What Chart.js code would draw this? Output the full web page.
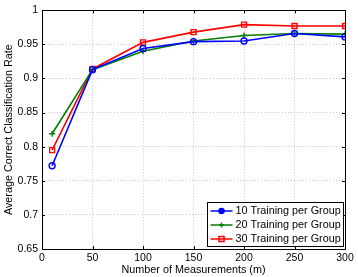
<!DOCTYPE html>
<html>
<head>
<meta charset="utf-8">
<script src="https://cdn.jsdelivr.net/npm/chart.js@4/dist/chart.umd.min.js"></script>
<style>
  html, body { margin: 0; padding: 0; background: #fff; }
  #wrap { width: 358px; height: 277px; position: relative; }
</style>
</head>
<body>
<div id="wrap"><canvas id="c"></canvas></div>
<script>
// number of measurements (m)
const measurements = [10, 50, 100, 150, 200, 250, 300];
const train10 = [0.772, 0.913, 0.944, 0.954, 0.955, 0.966, 0.961];
const train20 = [0.819, 0.913, 0.940, 0.955, 0.963, 0.966, 0.965];
const train30 = [0.795, 0.914, 0.953, 0.968, 0.979, 0.977, 0.977];
const seriesNames = ["10 Training per Group", "20 Training per Group", "30 Training per Group"];
const xTicks = [0, 50, 100, 150, 200, 250, 300];
const yTicks = [0.65, 0.7, 0.75, 0.8, 0.85, 0.9, 0.95, 1];

const FONT = "'Liberation Sans', Arial, Helvetica, sans-serif";

function pts(ys) {
  return measurements.map((m, i) => ({ x: m, y: ys[i] }));
}

// frame, inward ticks and legend box drawn matlab style
const matlabFrame = {
  id: "matlabFrame",
  afterDraw(chart) {
    const ctx = chart.ctx;
    const a = chart.chartArea;
    const xs = chart.scales.x, ys = chart.scales.y;
    ctx.save();
    ctx.strokeStyle = "#000";
    ctx.lineWidth = 1;
    ctx.beginPath();
    xTicks.forEach(t => {
      const px = Math.round(xs.getPixelForValue(t)) + 0.5;
      ctx.moveTo(px, a.bottom); ctx.lineTo(px, a.bottom - 3);
      ctx.moveTo(px, a.top); ctx.lineTo(px, a.top + 3);
    });
    yTicks.forEach(t => {
      const py = Math.round(ys.getPixelForValue(t)) + 0.5;
      ctx.moveTo(a.left, py); ctx.lineTo(a.left + 3, py);
      ctx.moveTo(a.right, py); ctx.lineTo(a.right - 3, py);
    });
    ctx.stroke();
    ctx.strokeRect(Math.round(a.left) + 0.5, Math.round(a.top) + 0.5,
      Math.round(a.right - a.left), Math.round(a.bottom - a.top));

    // legend
    const bw = 136, bh = 44;
    const bx = Math.round(a.right) - bw - 2 + 0.5, by = Math.round(a.bottom) - bh - 3 + 0.5;
    ctx.fillStyle = "#fff";
    ctx.fillRect(bx, by, bw, bh);
    ctx.strokeRect(bx, by, bw, bh);
    ctx.font = "10.8px " + FONT;
    ctx.textBaseline = "middle";
    chart.data.datasets.forEach((ds, i) => {
      const cy = by + 8.5 + i * 14;
      ctx.strokeStyle = ds.borderColor;
      ctx.lineWidth = 1.5;
      ctx.beginPath();
      ctx.moveTo(bx + 3, cy); ctx.lineTo(bx + 25, cy);
      ctx.stroke();
      const mx = bx + 14;
      ctx.beginPath();
      if (ds.pointStyle === "circle") {
        ctx.arc(mx, cy, 2.5, 0, Math.PI * 2);
        ctx.fillStyle = ds.borderColor; ctx.fill();
      } else if (ds.pointStyle === "cross") {
        ctx.moveTo(mx - 2.5, cy); ctx.lineTo(mx + 2.5, cy);
        ctx.moveTo(mx, cy - 2.5); ctx.lineTo(mx, cy + 2.5);
      } else {
        ctx.rect(mx - 2.5, cy - 2.5, 5, 5);
      }
      ctx.stroke();
      ctx.fillStyle = "#000";
      ctx.fillText(ds.label, bx + 28, cy + 0.5);
    });
    ctx.restore();
  }
};

new Chart(document.getElementById("c"), {
  type: "line",
  data: {
    datasets: [
      { label: seriesNames[0], data: pts(train10), borderColor: "#0000ff",
        pointStyle: "circle", pointRadius: 3 },
      { label: seriesNames[1], data: pts(train20), borderColor: "#008000",
        pointStyle: "cross", pointRadius: 3 },
      { label: seriesNames[2], data: pts(train30), borderColor: "#ff0000",
        pointStyle: "rect", pointRadius: 3.5 }
    ].map(d => Object.assign(d, {
      borderWidth: 1.6,
      pointBorderColor: d.borderColor,
      pointBackgroundColor: "rgba(0,0,0,0)",
      pointBorderWidth: 1.4,
      tension: 0,
      fill: false
    }))
  },
  options: {
    responsive: true,
    maintainAspectRatio: false,
    animation: false,
    layout: { padding: { left: 0, right: 13, top: 8, bottom: 0 } },
    plugins: { legend: { display: false }, tooltip: { enabled: false } },
    scales: {
      x: {
        type: "linear", min: 0, max: 300,
        afterBuildTicks: s => { s.ticks = xTicks.map(v => ({ value: v })); },
        afterFit: s => { s.height = 28; },
        grid: { color: "#c8c8c8", drawTicks: false },
        border: { display: false, dash: [1, 2] },
        ticks: { color: "#000", padding: 3, font: { family: FONT, size: 10.5 }, maxRotation: 0 },
        title: { display: true, text: "Number of Measurements (m)", color: "#000",
          font: { family: FONT, size: 10.8 }, padding: { top: 0, bottom: 0 } }
      },
      y: {
        min: 0.65, max: 1,
        afterBuildTicks: s => { s.ticks = yTicks.map(v => ({ value: v })); },
        afterFit: s => { s.width = 42; },
        grid: { color: "#c8c8c8", drawTicks: false },
        border: { display: false, dash: [1, 2] },
        ticks: { color: "#000", padding: 4, font: { family: FONT, size: 10.5 },
          callback: v => String(+v.toFixed(2)) },
        title: { display: true, text: "Average Correct Classification Rate", color: "#000",
          font: { family: FONT, size: 10.8 }, padding: { top: 3, bottom: 0 } }
      }
    }
  },
  plugins: [matlabFrame]
});
</script>
</body>
</html>
